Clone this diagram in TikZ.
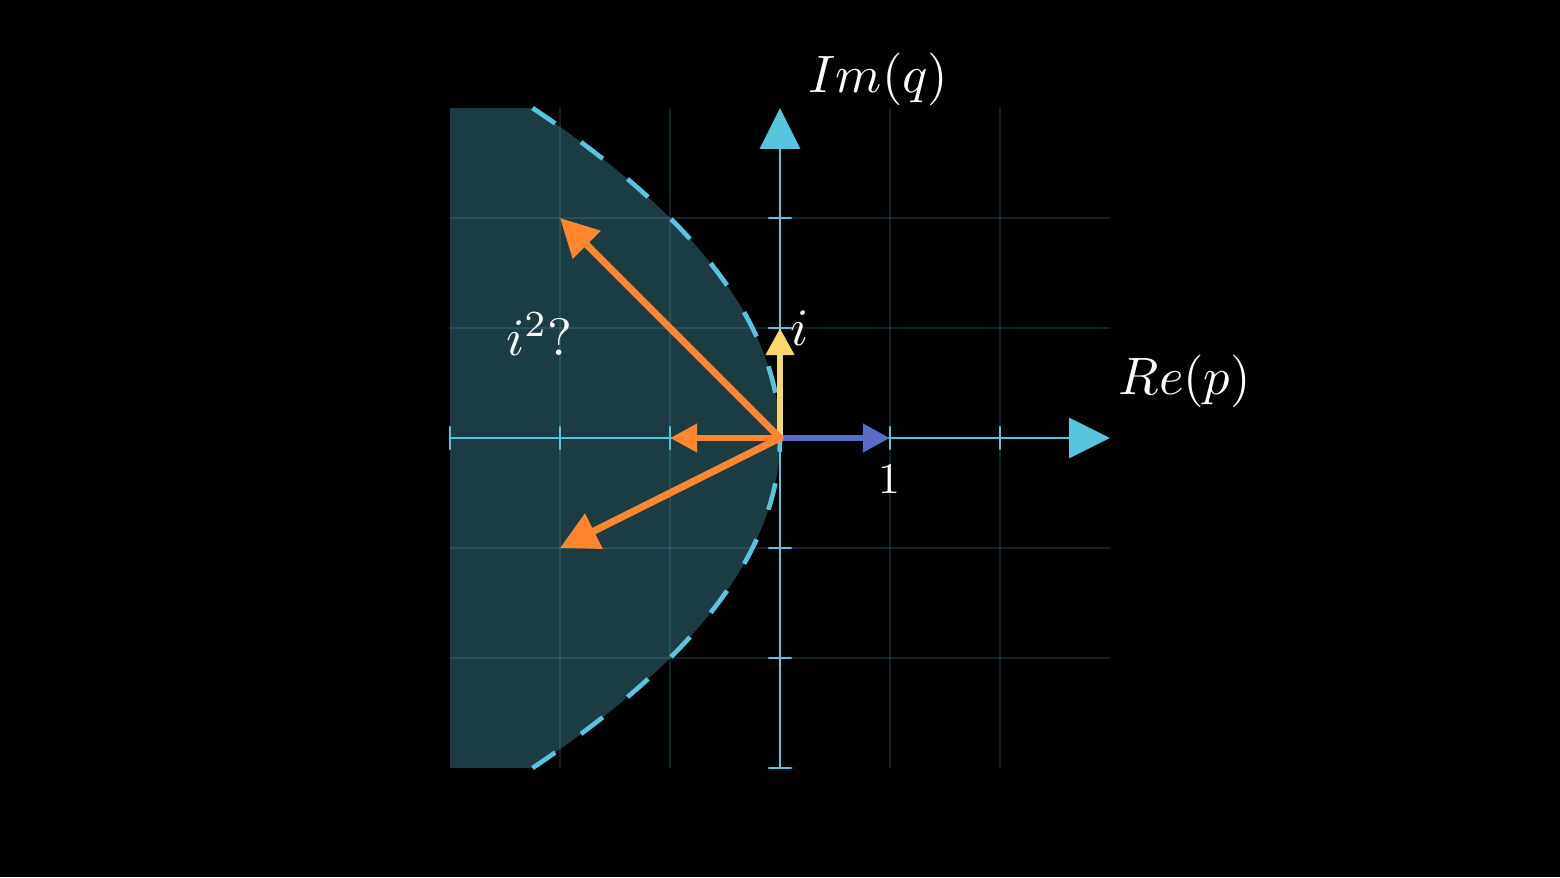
\documentclass[tikz,border=0pt]{standalone}
\usetikzlibrary{arrows.meta}
\definecolor{xanh}{HTML}{58C4DD}
\definecolor{cam}{HTML}{FF862F}
\definecolor{vang}{HTML}{F8D86C}
\definecolor{tim}{HTML}{5A6BC8}
\definecolor{nen}{RGB}{28,60,67}
\begin{document}
\begin{tikzpicture}[scale=1, line join=round, line cap=round, >=stealth,
	truc/.style={xanh, line width=0.7pt},
	luoi/.style={xanh, opacity=0.17, line width=0.3pt},
	vecto/.style={line width=1.8pt, -{Triangle[length=7pt,width=7pt]}},
	vectodai/.style={line width=1.8pt, -{Triangle[length=9.8pt,width=9.8pt]}},
	nhan/.style={white, scale=1.36}]
	%% Nen
	\fill[black] (-7.0909,-3.9909) rectangle (7.0909,3.9818);
	\useasboundingbox (-7.0909,-3.9909) rectangle (7.0909,3.9818);
	%% Khai bao diem
	\path 
	(0,0) coordinate (O)
	(1,0) coordinate (A)
	(0,1) coordinate (B)
	(-1,0) coordinate (C)
	(-2,2) coordinate (D)
	(-2,-1) coordinate (E)
	(-3,0) coordinate (X1)
	(3,0) coordinate (X2)
	(0,-3) coordinate (Y1)
	(0,3) coordinate (Y2)
	(-2.25,3) coordinate (P1)
	(-2.25,-3) coordinate (P2)
	;
	%% mien to
	\fill[nen] (-3,3)--(P1) .. controls (0.75,1) and (0.75,-1) .. (P2)--(-3,-3)--cycle;
	%% luoi
	\foreach \k in {-2,-1,1,2}{
		\draw[luoi] (\k,-3)--(\k,3);
		\draw[luoi] (-3,\k)--(3,\k);
	}
	%% parabol
	\draw[xanh, line width=1.2pt, line cap=butt, dash pattern=on 7.1pt off 8.24pt] (P1) .. controls (0.75,1) and (0.75,-1) .. (P2);
	%% truc
	\draw[truc, -{Triangle[length=10.6pt,width=10.4pt]}] (X1)--(X2);
	\draw[truc, -{Triangle[length=10.6pt,width=10.4pt]}] (Y1)--(Y2);
	\foreach \k in {-3,-2,-1,1,2}
	\draw[truc] (\k,-.1)--(\k,.1) (-.1,\k)--(.1,\k);
	%% vecto
	\draw[vecto, tim] (O)--(A);
	\draw[vecto, vang] (O)--(B);
	\draw[vecto, cam] (O)--(C);
	\draw[vectodai, cam] (O)--(D);
	\draw[vectodai, cam] (O)--(E);
	%% nhan
	\node[nhan] (re) at (3.68,0.514) {$Re(p)$};
	\node[nhan] (im) at (0.895,3.264) {$Im(q)$};
	\node[nhan] (i) at (0.18,0.995) {$i$};
	\node[nhan] (i2) at (-2.186,0.945) {$i^2?$};
	\node[white, scale=1.13] (mot) at (0.991,-0.373) {$1$};
\end{tikzpicture}
\end{document}
